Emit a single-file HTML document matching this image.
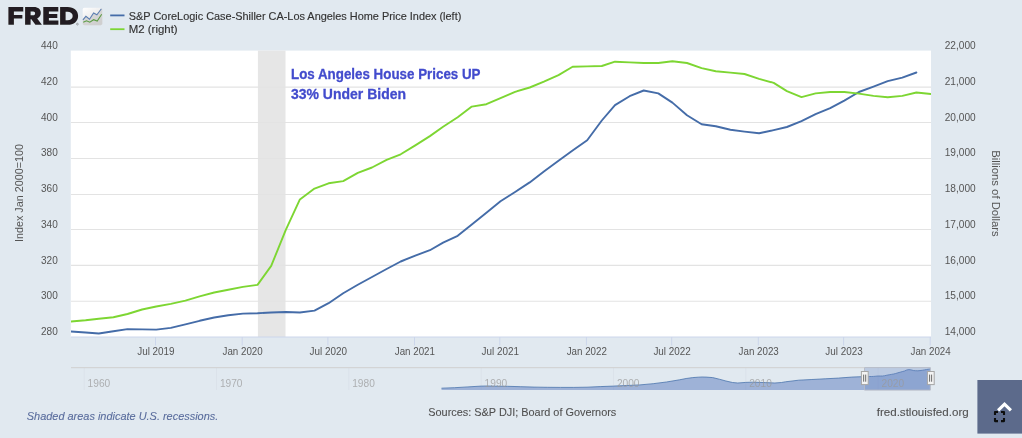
<!DOCTYPE html>
<html><head><meta charset="utf-8"><title>FRED</title>
<style>
html,body{margin:0;padding:0;background:#e1e9f0;}
body{width:1022px;height:438px;overflow:hidden;font-family:"Liberation Sans",sans-serif;}
svg{display:block}
text{font-family:"Liberation Sans",sans-serif;}
</style></head><body>
<svg width="1022" height="438" viewBox="0 0 1022 438">
<defs><linearGradient id="ig" x1="0" y1="0" x2="0.6" y2="1"><stop offset="0" stop-color="#ffffff"/><stop offset="1" stop-color="#dedede"/></linearGradient>
<filter id="soft" x="0" y="0" width="1022" height="438" filterUnits="userSpaceOnUse"><feGaussianBlur stdDeviation="0.35"/></filter>
<clipPath id="pc"><rect x="71.0" y="51.0" width="860.0" height="286.0"/></clipPath></defs>
<rect width="1022" height="438" fill="#e1e9f0"/>
<g filter="url(#soft)">
<rect x="70.8" y="50.6" width="860.2" height="286.4" fill="#ffffff"/>
<rect x="257.9" y="50.6" width="27.6" height="286.4" fill="#e6e6e6"/>
<line x1="71.0" x2="931.0" y1="87.10" y2="87.10" stroke="#e3e3e3" stroke-width="1.05"/>
<line x1="71.0" x2="931.0" y1="122.45" y2="122.45" stroke="#e3e3e3" stroke-width="1.05"/>
<line x1="71.0" x2="931.0" y1="158.45" y2="158.45" stroke="#e3e3e3" stroke-width="1.05"/>
<line x1="71.0" x2="931.0" y1="194.45" y2="194.45" stroke="#e3e3e3" stroke-width="1.05"/>
<line x1="71.0" x2="931.0" y1="229.45" y2="229.45" stroke="#e3e3e3" stroke-width="1.05"/>
<line x1="71.0" x2="931.0" y1="265.35" y2="265.35" stroke="#e3e3e3" stroke-width="1.05"/>
<line x1="71.0" x2="931.0" y1="301.25" y2="301.25" stroke="#e3e3e3" stroke-width="1.05"/>
<line x1="71.0" x2="931.0" y1="337.0" y2="337.0" stroke="#ccd6eb" stroke-width="1"/>
<line x1="155.5" x2="155.5" y1="337.0" y2="345.5" stroke="#ccd6eb" stroke-width="1"/>
<text x="155.9" y="354.8" font-size="10.5" fill="#555" text-anchor="middle" textLength="37.4" lengthAdjust="spacingAndGlyphs">Jul 2019</text>
<line x1="242.2" x2="242.2" y1="337.0" y2="345.5" stroke="#ccd6eb" stroke-width="1"/>
<text x="242.6" y="354.8" font-size="10.5" fill="#555" text-anchor="middle" textLength="40.2" lengthAdjust="spacingAndGlyphs">Jan 2020</text>
<line x1="327.9" x2="327.9" y1="337.0" y2="345.5" stroke="#ccd6eb" stroke-width="1"/>
<text x="328.3" y="354.8" font-size="10.5" fill="#555" text-anchor="middle" textLength="37.4" lengthAdjust="spacingAndGlyphs">Jul 2020</text>
<line x1="414.5" x2="414.5" y1="337.0" y2="345.5" stroke="#ccd6eb" stroke-width="1"/>
<text x="414.9" y="354.8" font-size="10.5" fill="#555" text-anchor="middle" textLength="40.2" lengthAdjust="spacingAndGlyphs">Jan 2021</text>
<line x1="499.8" x2="499.8" y1="337.0" y2="345.5" stroke="#ccd6eb" stroke-width="1"/>
<text x="500.2" y="354.8" font-size="10.5" fill="#555" text-anchor="middle" textLength="37.4" lengthAdjust="spacingAndGlyphs">Jul 2021</text>
<line x1="586.4" x2="586.4" y1="337.0" y2="345.5" stroke="#ccd6eb" stroke-width="1"/>
<text x="586.8" y="354.8" font-size="10.5" fill="#555" text-anchor="middle" textLength="40.2" lengthAdjust="spacingAndGlyphs">Jan 2022</text>
<line x1="671.7" x2="671.7" y1="337.0" y2="345.5" stroke="#ccd6eb" stroke-width="1"/>
<text x="672.1" y="354.8" font-size="10.5" fill="#555" text-anchor="middle" textLength="37.4" lengthAdjust="spacingAndGlyphs">Jul 2022</text>
<line x1="758.3" x2="758.3" y1="337.0" y2="345.5" stroke="#ccd6eb" stroke-width="1"/>
<text x="758.7" y="354.8" font-size="10.5" fill="#555" text-anchor="middle" textLength="40.2" lengthAdjust="spacingAndGlyphs">Jan 2023</text>
<line x1="843.6" x2="843.6" y1="337.0" y2="345.5" stroke="#ccd6eb" stroke-width="1"/>
<text x="844.0" y="354.8" font-size="10.5" fill="#555" text-anchor="middle" textLength="37.4" lengthAdjust="spacingAndGlyphs">Jul 2023</text>
<line x1="930.2" x2="930.2" y1="337.0" y2="345.5" stroke="#ccd6eb" stroke-width="1"/>
<text x="930.6" y="354.8" font-size="10.5" fill="#555" text-anchor="middle" textLength="40.2" lengthAdjust="spacingAndGlyphs">Jan 2024</text>
<text x="57.8" y="49.1" font-size="10.5" fill="#555" text-anchor="end" textLength="16.8" lengthAdjust="spacingAndGlyphs">440</text>
<text x="944.7" y="49.2" font-size="10.5" fill="#555" text-anchor="start" textLength="31" lengthAdjust="spacingAndGlyphs">22,000</text>
<text x="57.8" y="84.8" font-size="10.5" fill="#555" text-anchor="end" textLength="16.8" lengthAdjust="spacingAndGlyphs">420</text>
<text x="944.7" y="85.0" font-size="10.5" fill="#555" text-anchor="start" textLength="31" lengthAdjust="spacingAndGlyphs">21,000</text>
<text x="57.8" y="120.6" font-size="10.5" fill="#555" text-anchor="end" textLength="16.8" lengthAdjust="spacingAndGlyphs">400</text>
<text x="944.7" y="120.7" font-size="10.5" fill="#555" text-anchor="start" textLength="31" lengthAdjust="spacingAndGlyphs">20,000</text>
<text x="57.8" y="156.3" font-size="10.5" fill="#555" text-anchor="end" textLength="16.8" lengthAdjust="spacingAndGlyphs">380</text>
<text x="944.7" y="156.4" font-size="10.5" fill="#555" text-anchor="start" textLength="31" lengthAdjust="spacingAndGlyphs">19,000</text>
<text x="57.8" y="192.1" font-size="10.5" fill="#555" text-anchor="end" textLength="16.8" lengthAdjust="spacingAndGlyphs">360</text>
<text x="944.7" y="192.2" font-size="10.5" fill="#555" text-anchor="start" textLength="31" lengthAdjust="spacingAndGlyphs">18,000</text>
<text x="57.8" y="227.8" font-size="10.5" fill="#555" text-anchor="end" textLength="16.8" lengthAdjust="spacingAndGlyphs">340</text>
<text x="944.7" y="227.9" font-size="10.5" fill="#555" text-anchor="start" textLength="31" lengthAdjust="spacingAndGlyphs">17,000</text>
<text x="57.8" y="263.6" font-size="10.5" fill="#555" text-anchor="end" textLength="16.8" lengthAdjust="spacingAndGlyphs">320</text>
<text x="944.7" y="263.7" font-size="10.5" fill="#555" text-anchor="start" textLength="31" lengthAdjust="spacingAndGlyphs">16,000</text>
<text x="57.8" y="299.4" font-size="10.5" fill="#555" text-anchor="end" textLength="16.8" lengthAdjust="spacingAndGlyphs">300</text>
<text x="944.7" y="299.4" font-size="10.5" fill="#555" text-anchor="start" textLength="31" lengthAdjust="spacingAndGlyphs">15,000</text>
<text x="57.8" y="335.1" font-size="10.5" fill="#555" text-anchor="end" textLength="16.8" lengthAdjust="spacingAndGlyphs">280</text>
<text x="944.7" y="335.2" font-size="10.5" fill="#555" text-anchor="start" textLength="31" lengthAdjust="spacingAndGlyphs">14,000</text>
<text transform="translate(23,193) rotate(-90)" font-size="10.5" fill="#555" text-anchor="middle" textLength="98" lengthAdjust="spacingAndGlyphs">Index Jan 2000=100</text>
<text transform="translate(991.8,193.5) rotate(90)" font-size="10.5" fill="#555" text-anchor="middle" textLength="86.5" lengthAdjust="spacingAndGlyphs">Billions of Dollars</text>
<g clip-path="url(#pc)" fill="none" stroke-linejoin="round" stroke-linecap="round">
<path d="M71.0,331.5 L85.6,332.5 L98.8,333.5 L113.4,331.3 L127.5,329.1 L142.1,329.4 L156.2,329.6 L170.8,327.9 L185.4,324.4 L199.6,320.8 L214.2,317.5 L228.3,315.3 L242.9,313.6 L257.5,313.2 L271.2,312.5 L285.8,312.0 L299.9,312.5 L314.5,310.6 L328.6,303.2 L343.2,293.2 L357.8,284.8 L372.0,277.0 L386.6,269.0 L400.7,261.5 L415.3,255.7 L429.9,250.2 L443.1,242.6 L457.7,235.8 L471.8,224.4 L486.4,212.7 L500.5,201.3 L515.1,192.0 L529.7,182.4 L543.9,171.5 L558.5,160.8 L572.6,150.5 L587.2,140.2 L601.8,120.5 L615.0,105.1 L629.6,96.2 L643.7,90.5 L658.3,93.4 L672.4,102.6 L687.0,115.2 L701.6,124.2 L715.8,126.3 L730.4,129.7 L744.5,131.6 L759.1,133.3 L773.7,130.1 L786.9,127.0 L801.5,121.2 L815.6,114.2 L830.2,108.2 L844.3,100.6 L858.9,92.0 L873.5,86.6 L887.7,81.2 L902.3,77.6 L916.4,72.5" stroke="#446ca8" stroke-width="1.9"/>
<path d="M71.0,321.5 L85.6,320.3 L98.8,318.7 L113.4,317.3 L127.5,314.0 L142.1,309.5 L156.2,306.5 L170.8,303.9 L185.4,300.6 L199.6,296.3 L214.2,292.5 L228.3,289.8 L242.9,286.9 L257.5,284.9 L271.2,265.9 L285.8,229.8 L299.9,199.4 L314.5,188.6 L328.6,183.3 L343.2,181.1 L357.8,172.9 L372.0,167.5 L386.6,159.9 L400.7,154.3 L415.3,145.4 L429.9,136.1 L443.1,126.8 L457.7,117.3 L471.8,106.6 L486.4,104.2 L500.5,98.2 L515.1,91.8 L529.7,87.5 L543.9,81.7 L558.5,75.1 L572.6,66.8 L587.2,66.4 L601.8,66.0 L615.0,61.7 L629.6,62.4 L643.7,63.0 L658.3,63.0 L672.4,61.2 L687.0,63.0 L701.6,68.1 L715.8,71.2 L730.4,72.6 L744.5,74.0 L759.1,78.8 L773.7,82.9 L786.9,91.1 L801.5,97.1 L815.6,93.4 L830.2,92.0 L844.3,92.0 L858.9,93.6 L873.5,95.9 L887.7,97.3 L902.3,95.9 L916.4,92.5 L931.0,94.0" stroke="#7dd633" stroke-width="1.9"/>
</g>
<text x="291" y="79.0" font-size="14.6" font-weight="bold" fill="#434ccd" stroke="#434ccd" stroke-width="0.3" textLength="189.5" lengthAdjust="spacingAndGlyphs">Los Angeles House Prices UP</text>
<text x="291" y="98.8" font-size="14.6" font-weight="bold" fill="#434ccd" stroke="#434ccd" stroke-width="0.3" textLength="115" lengthAdjust="spacingAndGlyphs">33% Under Biden</text>
<line x1="110.2" x2="124.5" y1="15.4" y2="15.4" stroke="#446ca8" stroke-width="1.8"/>
<line x1="110.2" x2="124.5" y1="29.2" y2="29.2" stroke="#7dd633" stroke-width="1.8"/>
<text x="128.8" y="20.1" font-size="11" fill="#333" stroke="#333" stroke-width="0.15" textLength="332.5" lengthAdjust="spacingAndGlyphs">S&amp;P CoreLogic Case-Shiller CA-Los Angeles Home Price Index (left)</text>
<text x="128.8" y="33.4" font-size="11" fill="#333" stroke="#333" stroke-width="0.15" textLength="48.8" lengthAdjust="spacingAndGlyphs">M2 (right)</text>
<g fill="#231f20">
<path d="M8.4,7.1H23.25V11.4H13.9V15.0H22.35V18.6H13.9V24.85H8.4Z"/>
<path d="M25.1,7.1H33.8C38.3,7.1 40.8,9.4 40.8,13C40.8,15.7 39.4,17.5 37.2,18.4L41.9,24.85H35.4L31.4,19.2H30.6V24.85H25.1Z M30.6,11.6V15.3H33.2C34.4,15.3 35.1,14.6 35.1,13.45C35.1,12.3 34.4,11.6 33.2,11.6Z" fill-rule="evenodd"/>
<path d="M43.3,7.1H58.3V11.4H48.9V14.0H57.3V18.1H48.9V20.5H58.4V24.85H43.3Z"/>
<path d="M60.1,7.1H67.6C74,7.1 78.1,10.7 78.1,15.95C78.1,21.2 74,24.85 67.5,24.85H60.1Z M65.6,11.8V20.2H67.4C70.6,20.2 72.7,18.6 72.7,16C72.7,13.4 70.6,11.8 67.4,11.8Z" fill-rule="evenodd"/>
</g>
<circle cx="77.4" cy="24.1" r="0.9" fill="none" stroke="#555" stroke-width="0.45"/>
<g transform="translate(0.2,0.5)">
<rect x="82.5" y="7.2" width="19.6" height="17.5" rx="1.8" fill="url(#ig)"/>
<path d="M82.5,19.3 L85.7,15.8 L89.3,18.7 L93.4,12.5 L96.7,14.3 L101.2,8.3 L102.1,8.3 L102.1,22.9 Q102.1,24.7 100.3,24.7 L84.3,24.7 Q82.5,24.7 82.5,22.9Z" fill="#bdbdbd" opacity="0.45"/>
<path d="M82.7,19.3 L85.7,15.8 L89.3,18.7 L93.4,12.5 L96.7,14.3 L101.2,8.3" fill="none" stroke="#5a7db0" stroke-width="1.05"/>
<path d="M83.05,21.7 L86.3,20.3 L89.6,21.7 L93.4,19.2 L97,20.5 L101.5,13.7" fill="none" stroke="#5c9c45" stroke-width="1.05"/>
</g>
<g>
<line x1="84.2" x2="84.2" y1="368" y2="390" stroke="#dbe2ea" stroke-width="1"/>
<line x1="216.5" x2="216.5" y1="368" y2="390" stroke="#dbe2ea" stroke-width="1"/>
<line x1="348.8" x2="348.8" y1="368" y2="390" stroke="#dbe2ea" stroke-width="1"/>
<line x1="481.2" x2="481.2" y1="368" y2="390" stroke="#dbe2ea" stroke-width="1"/>
<line x1="613.5" x2="613.5" y1="368" y2="390" stroke="#dbe2ea" stroke-width="1"/>
<line x1="745.8" x2="745.8" y1="368" y2="390" stroke="#dbe2ea" stroke-width="1"/>
<line x1="878.1" x2="878.1" y1="368" y2="390" stroke="#dbe2ea" stroke-width="1"/>
<path d="M441.5,388.2 L454.7,387.7 L467.9,386.9 L481.2,386.1 L487.8,386.0 L494.4,386.2 L507.6,386.3 L520.8,386.7 L534.1,387.1 L547.3,387.3 L560.5,387.4 L573.8,387.4 L587.0,387.2 L600.2,386.6 L613.5,386.1 L626.7,385.5 L639.9,384.9 L653.2,383.7 L666.4,382.0 L679.6,379.8 L686.2,378.5 L692.8,377.6 L698.1,377.2 L702.1,377.0 L706.1,377.1 L712.7,377.6 L719.3,379.2 L725.9,381.0 L732.5,382.5 L737.8,383.0 L745.8,382.4 L752.4,382.2 L759.0,382.4 L765.6,382.6 L774.9,383.0 L781.5,382.5 L785.5,381.8 L798.7,380.2 L811.9,379.5 L825.2,378.8 L838.4,378.1 L851.6,377.1 L864.8,376.6 L867.1,376.6 L869.3,376.5 L871.5,376.5 L873.7,376.4 L875.9,376.2 L878.1,376.0 L880.3,376.0 L882.5,376.0 L884.7,375.7 L886.9,375.2 L889.1,374.8 L891.3,374.4 L893.5,374.0 L895.7,373.5 L897.9,372.8 L900.1,372.2 L902.3,371.6 L904.5,371.0 L906.7,370.0 L908.9,369.6 L911.2,369.9 L913.4,370.5 L915.6,370.7 L917.8,370.8 L920.0,370.6 L922.2,370.3 L924.4,369.9 L926.6,369.5 L928.8,369.2 L929.9,369.0 L929.9,390 L441.5,390 Z" fill="#6685c2" fill-opacity="0.55"/>
<path d="M441.5,388.2 L454.7,387.7 L467.9,386.9 L481.2,386.1 L487.8,386.0 L494.4,386.2 L507.6,386.3 L520.8,386.7 L534.1,387.1 L547.3,387.3 L560.5,387.4 L573.8,387.4 L587.0,387.2 L600.2,386.6 L613.5,386.1 L626.7,385.5 L639.9,384.9 L653.2,383.7 L666.4,382.0 L679.6,379.8 L686.2,378.5 L692.8,377.6 L698.1,377.2 L702.1,377.0 L706.1,377.1 L712.7,377.6 L719.3,379.2 L725.9,381.0 L732.5,382.5 L737.8,383.0 L745.8,382.4 L752.4,382.2 L759.0,382.4 L765.6,382.6 L774.9,383.0 L781.5,382.5 L785.5,381.8 L798.7,380.2 L811.9,379.5 L825.2,378.8 L838.4,378.1 L851.6,377.1 L864.8,376.6 L867.1,376.6 L869.3,376.5 L871.5,376.5 L873.7,376.4 L875.9,376.2 L878.1,376.0 L880.3,376.0 L882.5,376.0 L884.7,375.7 L886.9,375.2 L889.1,374.8 L891.3,374.4 L893.5,374.0 L895.7,373.5 L897.9,372.8 L900.1,372.2 L902.3,371.6 L904.5,371.0 L906.7,370.0 L908.9,369.6 L911.2,369.9 L913.4,370.5 L915.6,370.7 L917.8,370.8 L920.0,370.6 L922.2,370.3 L924.4,369.9 L926.6,369.5 L928.8,369.2 L929.9,369.0" fill="none" stroke="#4d76ad" stroke-width="0.9" stroke-opacity="0.9"/>
<rect x="864.4" y="367.5" width="66" height="22.6" fill="#6685c2" fill-opacity="0.3"/>
<text x="87.6" y="386.7" font-size="11.2" fill="#999" fill-opacity="0.72" textLength="22.6" lengthAdjust="spacingAndGlyphs">1960</text>
<text x="219.9" y="386.7" font-size="11.2" fill="#999" fill-opacity="0.72" textLength="22.6" lengthAdjust="spacingAndGlyphs">1970</text>
<text x="352.2" y="386.7" font-size="11.2" fill="#999" fill-opacity="0.72" textLength="22.6" lengthAdjust="spacingAndGlyphs">1980</text>
<text x="484.6" y="386.7" font-size="11.2" fill="#999" fill-opacity="0.72" textLength="22.6" lengthAdjust="spacingAndGlyphs">1990</text>
<text x="616.9" y="386.7" font-size="11.2" fill="#999" fill-opacity="0.72" textLength="22.6" lengthAdjust="spacingAndGlyphs">2000</text>
<text x="749.2" y="386.7" font-size="11.2" fill="#999" fill-opacity="0.72" textLength="22.6" lengthAdjust="spacingAndGlyphs">2010</text>
<text x="881.5" y="386.7" font-size="11.2" fill="#999" fill-opacity="0.72" textLength="22.6" lengthAdjust="spacingAndGlyphs">2020</text>
<line x1="71" x2="864.5" y1="367.7" y2="367.7" stroke="#cfcfcf" stroke-width="1"/>
<path d="M864.5,390.1 V367.6 H930.4 V390.1 Z" fill="none" stroke="#b6b9c4" stroke-width="0.9"/>
<rect x="861.4" y="371.5" width="6.8" height="13.1" fill="#f3f3f3" stroke="#a6a6a6" stroke-width="1"/>
<line x1="863.65" x2="863.65" y1="374.6" y2="381.7" stroke="#4a4a4a" stroke-width="0.8"/>
<line x1="865.7" x2="865.7" y1="374.6" y2="381.7" stroke="#4a4a4a" stroke-width="0.8"/>
<rect x="927.4" y="371.5" width="6.8" height="13.1" fill="#f3f3f3" stroke="#a6a6a6" stroke-width="1"/>
<line x1="929.6" x2="929.6" y1="374.6" y2="381.7" stroke="#4a4a4a" stroke-width="0.8"/>
<line x1="931.6" x2="931.6" y1="374.6" y2="381.7" stroke="#4a4a4a" stroke-width="0.8"/>
</g>
<text x="26.8" y="419.6" font-size="11" font-style="italic" fill="#596c9c" stroke="#596c9c" stroke-width="0.1" textLength="191.5" lengthAdjust="spacingAndGlyphs">Shaded areas indicate U.S. recessions.</text>
<text x="428.3" y="416.0" font-size="11.4" fill="#505050" stroke="#505050" stroke-width="0.1" textLength="188" lengthAdjust="spacingAndGlyphs">Sources: S&amp;P DJI; Board of Governors</text>
<text x="876.7" y="416.0" font-size="11.4" fill="#505050" stroke="#505050" stroke-width="0.1" textLength="92" lengthAdjust="spacingAndGlyphs">fred.stlouisfed.org</text>
<rect x="977.4" y="380" width="45" height="53.6" fill="#5b6b8b"/>
<path d="M999.2,409.3 L1004.5,404.1 L1009.8,409.3" fill="none" stroke="#ffffff" stroke-width="3.1" stroke-linecap="square" stroke-linejoin="miter"/>
<g fill="none" stroke="#0c0c0c" stroke-width="2.1" stroke-linejoin="round">
<path d="M995.0,415.1 V412.0 H998.0"/>
<path d="M1001.0,412.0 H1004.0 V415.1"/>
<path d="M995.0,418.0 V421.1 H998.0"/>
<path d="M1001.0,421.1 H1004.0 V418.0"/>
</g>
</g>
</svg></body></html>
